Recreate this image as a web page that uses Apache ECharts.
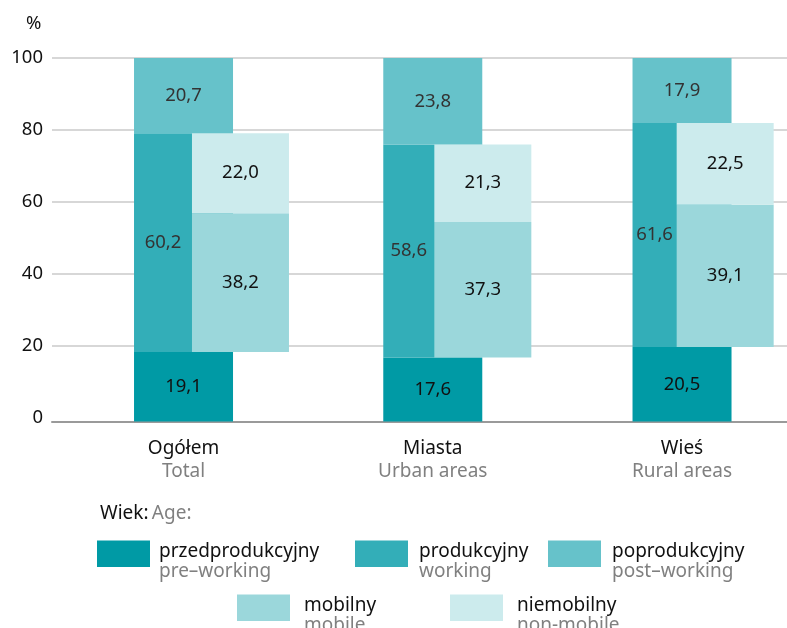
<!DOCTYPE html>
<html>
<head>
<meta charset="utf-8">
<script src="https://cdn.jsdelivr.net/npm/echarts@6/dist/echarts.min.js"></script>
<style>
  html, body { margin: 0; padding: 0; background: #fff; }
  #main { width: 787px; height: 628px; }
</style>
</head>
<body>
<div id="main"></div>
<script>
// categories (PL / EN)
const categories = ['Ogółem', 'Miasta', 'Wieś'];
const categoriesEn = ['Total', 'Urban areas', 'Rural areas'];

// age groups
const preWorking = [19.1, 17.6, 20.5];
const working = [60.2, 58.6, 61.6];
const postWorking = [20.7, 23.8, 17.9];

// mobility of working-age people
const mobile = [38.2, 37.3, 39.1];
const nonMobile = [22.0, 21.3, 22.5];

const names = {
    pre: ['przedprodukcyjny', 'pre–working'],
    work: ['produkcyjny', 'working'],
    post: ['poprodukcyjny', 'post–working'],
    mob: ['mobilny', 'mobile'],
    nonmob: ['niemobilny', 'non-mobile']
};

const colors = {
    pre: '#009aa5',
    work: '#33aeb8',
    post: '#66c2ca',
    mob: '#9bd7db',
    nonmob: '#ccebed'
};

const FONT = 'Noto Sans';
const fmt = v => v.toFixed(1).replace('.', ',');

function lbl(color) {
    return {
        show: true,
        position: 'inside',
        formatter: p => fmt(p.value),
        color: color,
        fontFamily: FONT,
        fontSize: 18.5
    };
}

// two-line legend text sits a bit lower than the swatch centre (top padding)
function legendItem(key, left, top, gap) {
    return {
        data: [names[key][0]],
        left: left,
        top: top,
        padding: 0,
        icon: 'rect',
        itemWidth: 53,
        itemHeight: 26.5,
        selectedMode: false,
        formatter: n => '{a|' + names[key][0] + '}\n{b|' + names[key][1] + '}',
        textStyle: {
            padding: [15, 0, 0, gap],
            rich: {
                a: { fontFamily: FONT, fontSize: 19, color: '#111', lineHeight: 20 },
                b: { fontFamily: FONT, fontSize: 19, color: '#808080', lineHeight: 20 }
            }
        }
    };
}

const chart = echarts.init(document.getElementById('main'));

const option = {
    animation: false,
    grid: [
        { left: 52, right: 0, top: 58, bottom: 210.5, outerBoundsMode: 'none' },
        { left: 58.9, width: 747.75, top: 58, bottom: 206.5, outerBoundsMode: 'none' },
        { left: 119.3, width: 727.05, top: 58, bottom: 206.5, outerBoundsMode: 'none' }
    ],
    xAxis: [
        {
            gridIndex: 0, type: 'category', data: categories, offset: 4.5,
            axisLine: { onZero: false, lineStyle: { color: '#9a9a9a', width: 2 } },
            axisTick: { show: false }, axisLabel: { show: false }
        },
        {
            gridIndex: 1, type: 'category', data: categories,
            axisLine: { show: false }, axisTick: { show: false },
            axisLabel: {
                margin: 16,
                formatter: (v, i) => '{a|' + v + '}\n{b|' + categoriesEn[i] + '}',
                rich: {
                    a: { fontFamily: FONT, fontSize: 19, color: '#111', lineHeight: 23 },
                    b: { fontFamily: FONT, fontSize: 19, color: '#808080', lineHeight: 23 }
                }
            }
        },
        {
            gridIndex: 2, type: 'category', data: categories,
            axisLine: { show: false }, axisTick: { show: false }, axisLabel: { show: false }
        }
    ],
    yAxis: [
        {
            gridIndex: 0, type: 'value', min: 0, max: 100, interval: 20,
            axisLine: { show: false }, axisTick: { show: false },
            axisLabel: { margin: 9, fontFamily: FONT, fontSize: 18.5, color: '#111' },
            splitLine: { showMinLine: false, lineStyle: { color: '#cacaca', width: 1.5 } }
        },
        { gridIndex: 1, type: 'value', min: 0, max: 100, show: false },
        { gridIndex: 2, type: 'value', min: 0, max: 100, show: false }
    ],
    graphic: [
        {
            type: 'text', left: 26, top: 14,
            style: { text: '%', fontFamily: FONT, fontSize: 18.5, fill: '#111' }
        },
        {
            type: 'text', left: 100, top: 504,
            style: {
                text: '{a|Wiek:} {b|Age:}',
                rich: {
                    a: { fontFamily: FONT, fontSize: 19, fill: '#111' },
                    b: { fontFamily: FONT, fontSize: 19, fill: '#808080' }
                }
            }
        }
    ],
    legend: [
        legendItem('pre', 97, 540.5, 4),
        legendItem('work', 355, 540.5, 6),
        legendItem('post', 548, 540.5, 6),
        legendItem('mob', 237, 594.5, 9),
        legendItem('nonmob', 450, 594.5, 9)
    ],
    series: [
        {
            name: names.pre[0], type: 'bar', stack: 'age', xAxisIndex: 1, yAxisIndex: 1,
            barWidth: 99, data: preWorking,
            itemStyle: { color: colors.pre }, label: lbl('#111')
        },
        {
            name: names.work[0], type: 'bar', stack: 'age', xAxisIndex: 1, yAxisIndex: 1,
            barWidth: 99, data: working,
            itemStyle: { color: colors.work }, label: lbl('#333')
        },
        {
            name: names.post[0], type: 'bar', stack: 'age', xAxisIndex: 1, yAxisIndex: 1,
            barWidth: 99, data: postWorking,
            itemStyle: { color: colors.post }, label: lbl('#333')
        },
        {
            name: 'base', type: 'bar', stack: 'mob', xAxisIndex: 2, yAxisIndex: 2,
            barWidth: 97, data: preWorking, silent: true,
            itemStyle: { color: 'rgba(0,0,0,0)' }, label: { show: false }
        },
        {
            name: names.mob[0], type: 'bar', stack: 'mob', xAxisIndex: 2, yAxisIndex: 2,
            barWidth: 97, data: mobile,
            itemStyle: { color: colors.mob }, label: lbl('#111')
        },
        {
            name: names.nonmob[0], type: 'bar', stack: 'mob', xAxisIndex: 2, yAxisIndex: 2,
            barWidth: 97, data: nonMobile,
            itemStyle: { color: colors.nonmob }, label: lbl('#111')
        }
    ]
};

chart.setOption(option);

// centre the "working" labels on the part of the bar not covered by the mobility bar
const workData = working.map(function (v, i) {
    const xl = chart.convertToPixel({ xAxisIndex: 1 }, i);
    const xr = chart.convertToPixel({ xAxisIndex: 2 }, i);
    const visibleMid = ((xl - 99 / 2) + (xr - 97 / 2)) / 2;
    return { value: v, label: { offset: [visibleMid - xl, 0] } };
});
chart.setOption({ series: [{}, { data: workData }] });
</script>
</body>
</html>
